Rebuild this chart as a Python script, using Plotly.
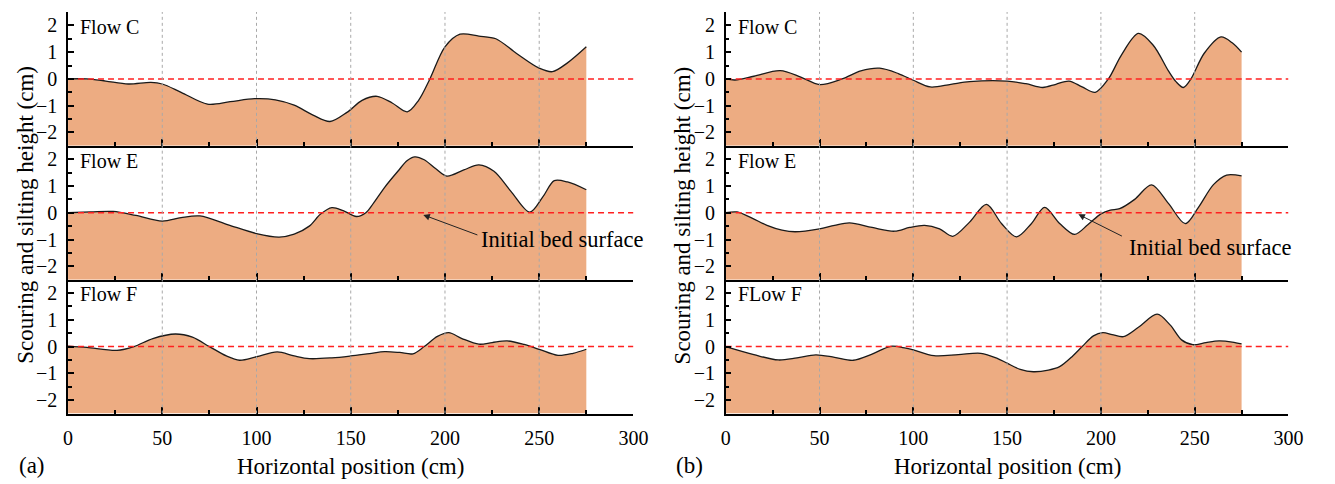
import plotly.graph_objects as go

# ---------------- data ----------------
# (a) left column
A_C_X = [0, 10, 20, 32, 44, 50, 60, 74, 86, 99, 110, 120, 130, 139, 148, 156, 164, 172, 180, 186, 192, 200, 208, 218, 227, 238, 250, 257, 265, 275]
A_C_Y = [0.0, 0.0, -0.08, -0.19, -0.13, -0.19, -0.5, -0.94, -0.85, -0.74, -0.78, -0.98, -1.35, -1.59, -1.25, -0.8, -0.65, -0.9, -1.23, -0.8, 0.0, 1.2, 1.67, 1.6, 1.5, 0.95, 0.4, 0.27, 0.6, 1.2]

A_E_X = [0, 12, 24, 36, 50, 60, 70, 85, 100, 112, 120, 128, 134, 140, 146, 153, 158, 162, 168, 175, 180, 184, 189, 195, 201, 210, 218, 226, 235, 245, 252, 258, 265, 275]
A_E_Y = [0.0, 0.03, 0.05, -0.1, -0.31, -0.18, -0.12, -0.45, -0.78, -0.91, -0.8, -0.5, -0.05, 0.19, 0.08, -0.14, 0.0, 0.35, 0.95, 1.55, 1.95, 2.09, 1.98, 1.65, 1.37, 1.6, 1.79, 1.55, 0.8, 0.02, 0.6, 1.2, 1.15, 0.86]

A_F_X = [0, 10, 26, 35, 45, 57, 66, 75, 84, 91, 100, 111, 120, 128, 140, 150, 160, 168, 176, 183, 189, 196, 202, 209, 218, 225, 233, 242, 250, 260, 268, 275]
A_F_Y = [0.02, -0.03, -0.14, 0.0, 0.3, 0.47, 0.35, 0.0, -0.35, -0.51, -0.38, -0.2, -0.35, -0.45, -0.42, -0.35, -0.26, -0.19, -0.22, -0.27, 0.0, 0.38, 0.52, 0.3, 0.09, 0.15, 0.21, 0.08, -0.1, -0.33, -0.25, -0.1]

# (b) right column
B_C_X = [0, 5, 15, 29, 40, 50, 62, 72, 82, 92, 100, 109, 120, 130, 150, 160, 169, 176, 183, 190, 197, 204, 211, 220, 228, 236, 240, 244, 248, 255, 264, 270, 275]
B_C_Y = [0.0, -0.04, 0.1, 0.31, 0.07, -0.21, 0.0, 0.3, 0.4, 0.2, -0.05, -0.3, -0.2, -0.1, -0.08, -0.18, -0.32, -0.2, -0.08, -0.3, -0.5, 0.0, 0.9, 1.7, 1.25, 0.3, -0.1, -0.32, 0.0, 0.95, 1.57, 1.35, 1.0]

B_E_X = [0, 6, 14, 22, 30, 37, 50, 58, 66, 78, 90, 98, 106, 114, 121, 130, 139, 147, 155, 163, 170, 178, 186, 193, 200, 205, 210, 218, 227, 236, 245, 252, 260, 267, 275]
B_E_Y = [0.0, 0.03, -0.2, -0.47, -0.65, -0.71, -0.6, -0.47, -0.38, -0.55, -0.69, -0.55, -0.47, -0.6, -0.88, -0.35, 0.31, -0.4, -0.9, -0.4, 0.2, -0.4, -0.81, -0.45, -0.04, 0.1, 0.15, 0.5, 1.04, 0.35, -0.41, 0.2, 1.05, 1.41, 1.38]

B_F_X = [0, 15, 28, 38, 48, 58, 68, 78, 88, 96, 100, 111, 124, 136, 145, 150, 157, 164, 172, 178, 185, 190, 196, 201, 206, 212, 220, 230, 237, 243, 249, 256, 263, 270, 275]
B_F_Y = [0.0, -0.3, -0.5, -0.42, -0.31, -0.4, -0.51, -0.28, 0.01, -0.06, -0.12, -0.34, -0.3, -0.25, -0.45, -0.62, -0.85, -0.94, -0.88, -0.75, -0.35, 0.0, 0.4, 0.52, 0.45, 0.37, 0.72, 1.21, 0.8, 0.25, 0.07, 0.15, 0.21, 0.17, 0.1]

PANEL_LABELS = [["Flow C", "Flow E", "Flow F"], ["Flow C", "Flow E", "FLow F"]]
COLUMN_TAGS = ["(a)", "(b)"]
X_TICKS = [0, 50, 100, 150, 200, 250, 300]
GRID_X = [50, 100, 150, 200, 250]
Y_TICKS = [-2, -1, 0, 1, 2]
Y_TICKTEXT = ["\u22122", "\u22121", "0", "1", "2"]
X_RANGE = [0, 300]
Y_RANGE = [-2.5, 2.5]
BED_LEVEL = 0.0
X_TITLE = "Horizontal position (cm)"
Y_TITLE = "Scouring and silting height (cm)"
ARROW_TEXT = "Initial bed surface"
# arrow (head x, head y, tail x, tail y, text x, text y) for the Flow E panels
ARROW_A = (188.5, -0.08, 218, -0.85, 262, -1.0)
ARROW_B = (188.0, -0.06, 212, -0.9, 258, -1.28)

# ---------------- styling / layout ----------------
W, H = 1335, 484
FONT = "Liberation Serif, Times New Roman, serif"
FILL = "#EDAC82"
COL_PX = [(64, 638), (731.7, 1303)]
TOP_PX, BOT_PX = 12, 413.5
PH = (BOT_PX - TOP_PX) / 3

def px_x(x):
    return x / W

def px_y(y):
    return 1 - y / H

def ax_name(letter, idx):
    return letter if idx == 1 else f"{letter}{idx}"

series = [[(A_C_X, A_C_Y), (A_E_X, A_E_Y), (A_F_X, A_F_Y)],
          [(B_C_X, B_C_Y), (B_E_X, B_E_Y), (B_F_X, B_F_Y)]]

fig = go.Figure()
layout = dict(width=W, height=H, margin=dict(l=0, r=0, t=0, b=0),
              paper_bgcolor="white", plot_bgcolor="rgba(0,0,0,0)",
              showlegend=False, font=dict(family=FONT, color="black"))
shapes, annotations = [], []

for c in range(2):
    for r in range(3):
        idx = c * 3 + r + 1
        xa, ya = ax_name("x", idx), ax_name("y", idx)
        xs, ys = series[c][r]
        # baseline at bottom of panel for the fill
        fig.add_trace(go.Scatter(x=[xs[0], xs[-1]], y=[Y_RANGE[0]] * 2, mode="lines",
                                 line=dict(width=0, color="rgba(0,0,0,0)"),
                                 xaxis=xa, yaxis=ya, hoverinfo="skip"))
        fig.add_trace(go.Scatter(x=xs, y=ys, mode="lines", fill="tonexty", fillcolor=FILL,
                                 line=dict(color="#1a1a1a", width=1.3, shape="spline", smoothing=0.9),
                                 xaxis=xa, yaxis=ya))
        fig.add_trace(go.Scatter(x=X_RANGE, y=[BED_LEVEL] * 2, mode="lines",
                                 line=dict(color="#FF2020", width=1.5, dash="6px,4px"),
                                 xaxis=xa, yaxis=ya, hoverinfo="skip"))
        y_top = TOP_PX + r * PH
        y_bot = y_top + PH
        key_x = "xaxis" if idx == 1 else f"xaxis{idx}"
        key_y = "yaxis" if idx == 1 else f"yaxis{idx}"
        layout[key_x] = dict(domain=[px_x(COL_PX[c][0]), px_x(COL_PX[c][1])], anchor=ya,
                             range=X_RANGE, showline=True, linecolor="black", linewidth=1.5,
                             ticks="inside", ticklen=7, tickwidth=1.5, tickcolor="black",
                             tickmode="array", tickvals=X_TICKS,
                             showticklabels=(r == 2), tickfont=dict(family=FONT, size=20),
                             ticklabelstandoff=6,
                             minor=dict(dtick=25, tick0=0, ticks="inside", ticklen=4,
                                        tickwidth=1.5, tickcolor="black", showgrid=False),
                             showgrid=False, zeroline=False, fixedrange=True)
        layout[key_y] = dict(domain=[px_y(y_bot), px_y(y_top)], anchor=xa,
                             range=Y_RANGE, showline=True, linecolor="black", linewidth=1.5,
                             ticks="inside", ticklen=6, tickwidth=1.5, tickcolor="black",
                             tickmode="array", tickvals=Y_TICKS, ticktext=Y_TICKTEXT,
                             tickfont=dict(family=FONT, size=20), ticklabelstandoff=5,
                             minor=dict(dtick=0.5, tick0=0, ticks="inside", ticklen=4,
                                        tickwidth=1.5, tickcolor="black", showgrid=False),
                             showgrid=False, zeroline=False, fixedrange=True)
        for g in GRID_X:
            shapes.append(dict(type="line", xref=xa, yref=f"{ya} domain", x0=g, x1=g, y0=0, y1=1,
                               layer="above", line=dict(color="#A8A8A8", width=1, dash="3px,3px")))
        annotations.append(dict(text=PANEL_LABELS[c][r], xref=f"{xa} domain", yref=ya, x=0, y=1.95,
                                xanchor="left", yanchor="middle", xshift=10, showarrow=False,
                                font=dict(family=FONT, size=20)))
    # column titles
    cx = (COL_PX[c][0] + COL_PX[c][1]) / 2
    annotations.append(dict(text=X_TITLE, xref="paper", yref="paper", x=px_x(cx), y=px_y(466),
                            xanchor="center", yanchor="middle", showarrow=False,
                            font=dict(family=FONT, size=23)))
    annotations.append(dict(text=Y_TITLE, xref="paper", yref="paper", x=px_x(COL_PX[c][0] - 44),
                            y=px_y(215), xanchor="center", yanchor="middle",
                            textangle=-90, showarrow=False, font=dict(family=FONT, size=23)))
    annotations.append(dict(text=COLUMN_TAGS[c], xref="paper", yref="paper",
                            x=px_x(COL_PX[c][0] - 37), y=px_y(465), xanchor="center", yanchor="middle",
                            showarrow=False, font=dict(family=FONT, size=23)))

for (hx, hy, tx, ty, lx, ly), idx in [(ARROW_A, 2), (ARROW_B, 5)]:
    xa, ya = ax_name("x", idx), ax_name("y", idx)
    annotations.append(dict(text="", xref=xa, yref=ya, x=hx, y=hy,
                            axref=xa, ayref=ya, ax=tx, ay=ty, showarrow=True,
                            arrowhead=2, arrowsize=1.3, arrowwidth=1, arrowcolor="#222"))
    annotations.append(dict(text=ARROW_TEXT, xref=xa, yref=ya, x=lx, y=ly,
                            xanchor="center", yanchor="middle", showarrow=False,
                            font=dict(family=FONT, size=22.5)))

layout["shapes"] = shapes
layout["annotations"] = annotations
fig.update_layout(**layout)
fig.write_html("out.html", config={"displayModeBar": False},
               post_script="document.body.style.margin='0';document.body.style.overflow='hidden';")
